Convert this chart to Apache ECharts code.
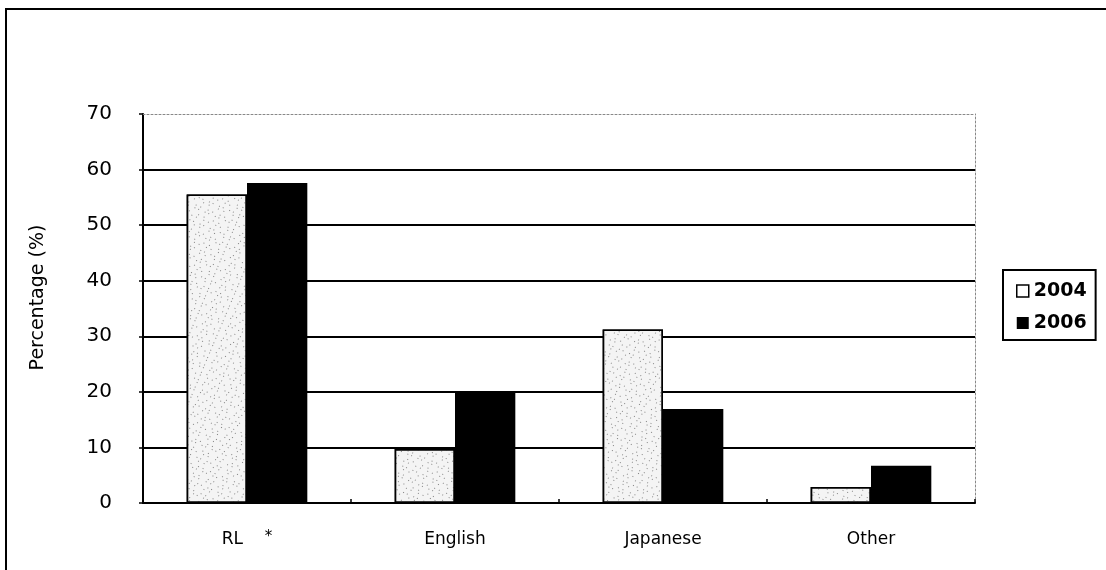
<!DOCTYPE html>
<html>
<head>
<meta charset="utf-8">
<style>
  html, body { margin: 0; padding: 0; background: #fff; }
  #chart { width: 1106px; height: 570px; }
</style>
<script src="https://cdn.jsdelivr.net/npm/echarts@6/dist/echarts.min.js"></script>
</head>
<body>
<div id="chart"></div>
<script>
// Share of respondents by language, survey years 2004 and 2006
const categories = ['RL', 'English', 'Japanese', 'Other'];
const values2004 = [55.5, 9.7, 31.2, 2.9];
const values2006 = [57.6, 19.8, 16.9, 6.7];
const yTicks = { min: 0, max: 70, interval: 10 };

const FONT = 'DejaVu Sans';
const chart = echarts.init(document.getElementById('chart'), null, { renderer: 'canvas' });

chart.setOption({
  backgroundColor: '#fff',
  animation: false,
  textStyle: { fontFamily: FONT, color: '#000' },
  graphic: [{
    type: 'rect',
    shape: { x: 6, y: 9, width: 1120, height: 600 },
    style: { fill: 'none', stroke: '#000', lineWidth: 2 },
    silent: true
  }],
  grid: { left: 143, top: 114, right: 131, bottom: 67, containLabel: false },
  legend: {
    orient: 'vertical',
    left: 1003,
    top: 270,
    padding: [11, 9, 7, 13],
    itemGap: 12,
    itemWidth: 12,
    itemHeight: 12,
    borderColor: '#000',
    borderWidth: 2,
    borderRadius: 0,
    backgroundColor: '#fff',
    textStyle: { fontFamily: FONT, fontSize: 19, fontWeight: 'bold', color: '#000', lineHeight: 20 },
    data: [
      { name: '2004', icon: 'rect', itemStyle: { color: '#fff', borderColor: '#000', borderWidth: 1.5, decal: 'none' } },
      { name: '2006', icon: 'rect', itemStyle: { color: '#000', borderWidth: 0 } }
    ]
  },
  xAxis: [{
    type: 'category',
    data: categories,
    position: 'bottom',
    axisLine: { show: true, onZero: false, lineStyle: { color: '#000', width: 2 } },
    axisTick: { show: true, inside: true, length: 4, lineStyle: { color: '#000', width: 1.5 } },
    axisLabel: {
      margin: 27,
      fontFamily: FONT,
      fontSize: 17,
      lineHeight: 20,
      color: '#000',
      formatter: function (v) { return v === 'RL' ? 'RL    {sup|*}' : v; },
      rich: { sup: { fontSize: 15, lineHeight: 20, verticalAlign: 'top', fontFamily: FONT, color: '#000' } }
    },
    splitLine: { show: false }
  }, {
    type: 'category',
    data: categories,
    position: 'top',
    axisLine: { show: true, onZero: false, lineStyle: { color: '#888', width: 1, type: [2, 2] } },
    axisTick: { show: false },
    axisLabel: { show: false }
  }],
  yAxis: [{
    type: 'value',
    min: yTicks.min,
    max: yTicks.max,
    interval: yTicks.interval,
    name: 'Percentage (%)',
    nameLocation: 'middle',
    nameGap: 95,
    nameTextStyle: { fontFamily: FONT, fontSize: 19, color: '#000', padding: [0, 0, 0, 22] },
    axisLine: { show: true, onZero: false, lineStyle: { color: '#000', width: 2 } },
    axisTick: { show: true, inside: false, length: 4, lineStyle: { color: '#000', width: 1.5 } },
    axisLabel: { margin: 31, fontFamily: FONT, fontSize: 20, color: '#000' },
    splitLine: { show: true, showMinLine: false, showMaxLine: false, lineStyle: { color: '#000', width: 2 } }
  }, {
    type: 'value',
    position: 'right',
    min: yTicks.min,
    max: yTicks.max,
    interval: yTicks.interval,
    axisLine: { show: true, onZero: false, lineStyle: { color: '#888', width: 1, type: [2, 2] } },
    axisTick: { show: false },
    axisLabel: { show: false },
    splitLine: { show: false }
  }],
  series: [{
    name: '2004',
    type: 'bar',
    data: values2004,
    barGap: '0%',
    barCategoryGap: '42%',
    itemStyle: {
      color: '#f4f4f4',
      borderColor: '#000',
      borderWidth: 1.5,
      // grainy stipple fill
      decal: {
        symbol: 'rect',
        symbolSize: 1,
        dashArrayX: [[1, 4, 1, 7], [1, 6, 1, 3], [1, 9, 1, 5]],
        dashArrayY: [1, 2, 1, 4],
        rotation: 0.4,
        color: 'rgba(60,60,60,0.6)'
      }
    }
  }, {
    name: '2006',
    type: 'bar',
    data: values2006,
    itemStyle: { color: '#000', borderWidth: 0 }
  }]
});
</script>
</body>
</html>
